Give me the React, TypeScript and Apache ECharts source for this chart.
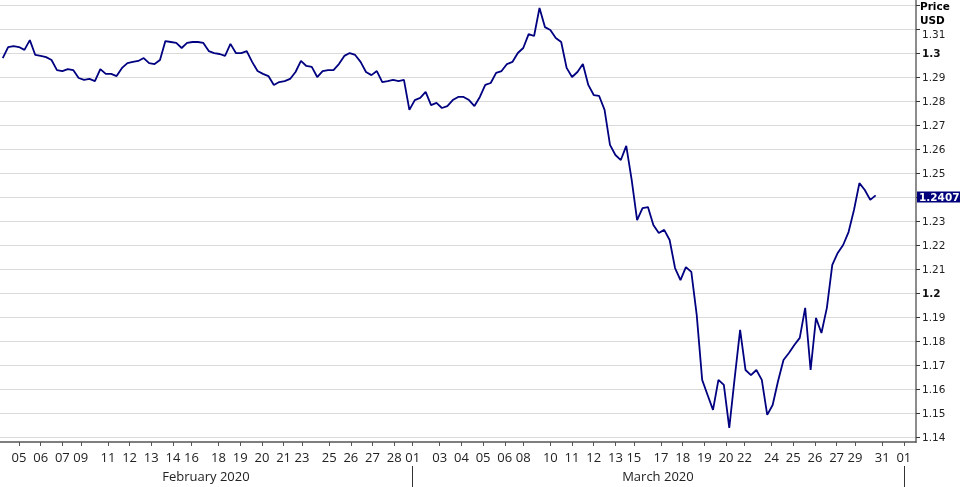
import React, { useEffect, useRef } from "react";
import * as echarts from "echarts";

// GBP/USD price, sampled every quarter of a trading day (weekends collapsed)
const prices = [
  1.2979, 1.3025, 1.3029, 1.3025, 1.3013, 1.3054, 1.2992, 1.2988, 1.2983, 1.2971,
  1.2929, 1.2925, 1.2933, 1.2929, 1.2896, 1.2888, 1.2892, 1.2883, 1.2933, 1.2913,
  1.2913, 1.2904, 1.2938, 1.2958, 1.2963, 1.2967, 1.2979, 1.2958, 1.2954, 1.2971,
  1.3050, 1.3046, 1.3042, 1.3021, 1.3042, 1.3046, 1.3046, 1.3042, 1.3008, 1.3000,
  1.2996, 1.2988, 1.3038, 1.3000, 1.3000, 1.3008, 1.2963, 1.2925, 1.2913, 1.2904,
  1.2867, 1.2879, 1.2883, 1.2892, 1.2921, 1.2967, 1.2946, 1.2942, 1.2900, 1.2925,
  1.2929, 1.2929, 1.2954, 1.2988, 1.3000, 1.2992, 1.2963, 1.2921, 1.2908, 1.2925,
  1.2879, 1.2883, 1.2888, 1.2883, 1.2888, 1.2763, 1.2804, 1.2813, 1.2838, 1.2783,
  1.2792, 1.2771, 1.2779, 1.2804, 1.2817, 1.2817, 1.2804, 1.2779, 1.2817, 1.2867,
  1.2875, 1.2917, 1.2925, 1.2954, 1.2963, 1.3000, 1.3021, 1.3079, 1.3071, 1.3188,
  1.3108, 1.3096, 1.3063, 1.3046, 1.2938, 1.2900, 1.2921, 1.2954, 1.2867, 1.2825,
  1.2821, 1.2763, 1.2617, 1.2575, 1.2554, 1.2613, 1.2471, 1.2304, 1.2354, 1.2358,
  1.2283, 1.2250, 1.2263, 1.2221, 1.2104, 1.2054, 1.2108, 1.2088, 1.1908, 1.1638,
  1.1575, 1.1513, 1.1638, 1.1617, 1.1438, 1.1646, 1.1846, 1.1679, 1.1658, 1.1679,
  1.1638, 1.1492, 1.1533, 1.1633, 1.1721, 1.1750, 1.1783, 1.1813, 1.1938, 1.1679,
  1.1896, 1.1833, 1.1938, 1.2117, 1.2167, 1.2200, 1.2254, 1.2346, 1.2458, 1.2429,
  1.2388, 1.2407,
];
const startDay = 1.25;
const stepDay = 0.25;
const lastPrice = 1.2407;

// trading-day positions of the day labels (Feb 3 = 0)
const dayTickLabels = [
  "05", "06", "07", "09", "11", "12", "13", "14", "16", "18", "19", "20", "21", "23",
  "25", "26", "27", "28", "01", "03", "04", "05", "06", "08", "10", "11", "12", "13",
  "15", "17", "18", "19", "20", "22", "24", "25", "26", "27", "29", "31", "01",
];
const dayTickValues = [
  2, 3, 4, 4.85, 6.1, 7.1, 8.1, 9.1, 9.95, 11.2, 12.2, 13.2, 14.2, 15.05,
  16.3, 17.3, 18.3, 19.3, 20.15, 21.4, 22.4, 23.4, 24.4, 25.25, 26.5, 27.5, 28.5, 29.5,
  30.35, 31.6, 32.6, 33.6, 34.6, 35.45, 36.7, 37.7, 38.7, 39.7, 40.55, 41.8, 42.8,
];
const monthLabels = ["February 2020", "March 2020"];
const monthLabelValues = [10.62, 31.46];
const monthBoundaries = [20.15, 42.8];

const yTickValues = [
  1.14, 1.15, 1.16, 1.17, 1.18, 1.19, 1.2, 1.21, 1.22, 1.23, 1.24, 1.25, 1.26,
  1.27, 1.28, 1.29, 1.3, 1.31, 1.32,
];
// 1.24 is hidden behind the last-price box
const yLabelValues = [
  1.14, 1.15, 1.16, 1.17, 1.18, 1.19, 1.2, 1.21, 1.22, 1.23, 1.25, 1.26,
  1.27, 1.28, 1.29, 1.3, 1.31,
];
const boldYLabels = [1.2, 1.3];
const loweredYLabels = [1.31];

const xMin = 1.124;
const xMax = 43.36;
const yMin = 1.1379;
const yMax = 1.3221;

function lookup(values: number[], labels: string[], v: number): string {
  for (let i = 0; i < values.length; i++) {
    if (Math.abs(values[i] - v) < 1e-6) return labels[i];
  }
  return "";
}
const has = (arr: number[], v: number) => arr.some((b) => Math.abs(b - v) < 1e-6);

export default function App() {
  const ref = useRef<HTMLDivElement>(null);
  useEffect(() => {
    if (!ref.current) return;
    const chart = echarts.init(ref.current, null, { renderer: "svg" });
    const data = prices.map((p, i) => [startDay + i * stepDay, p]);
    chart.setOption({
      animation: false,
      grid: { left: 0, right: 44, top: 0, bottom: 45, containLabel: false },
      xAxis: [
        {
          type: "value",
          min: xMin,
          max: xMax,
          position: "bottom",
          axisLine: { show: true, onZero: false, lineStyle: { color: "#555", width: 1.5 } },
          axisTick: {
            show: true,
            customValues: dayTickValues,
            length: 4,
            lineStyle: { color: "#555", width: 1 },
          },
          axisLabel: {
            customValues: dayTickValues,
            formatter: (v: number) => lookup(dayTickValues, dayTickLabels, v),
            margin: 8,
            fontFamily: "Open Sans",
            fontSize: 13,
            color: "#222",
          },
          splitLine: { show: false },
        },
        {
          type: "value",
          min: xMin,
          max: xMax,
          position: "bottom",
          offset: 24,
          axisLine: { show: false, onZero: false },
          axisTick: {
            show: true,
            customValues: monthBoundaries,
            length: 21,
            lineStyle: { color: "#333", width: 1 },
          },
          axisLabel: {
            customValues: monthLabelValues,
            formatter: (v: number) => lookup(monthLabelValues, monthLabels, v),
            margin: 3,
            fontFamily: "Open Sans",
            fontSize: 13,
            color: "#222",
          },
          splitLine: { show: false },
        },
      ],
      yAxis: {
        type: "value",
        position: "right",
        min: yMin,
        max: yMax,
        axisLine: { show: true, onZero: false, lineStyle: { color: "#8c8c8c", width: 2 } },
        axisTick: {
          show: true,
          customValues: yTickValues,
          length: 4,
          lineStyle: { color: "#333", width: 1 },
        },
        axisLabel: {
          customValues: yLabelValues,
          margin: 6,
          fontFamily: "DejaVu Sans",
          fontSize: 10.5,
          color: "#222",
          formatter: (v: number) => {
            const t = String(Number(v.toFixed(2)));
            if (has(boldYLabels, v)) return "{b|" + t + "}";
            if (has(loweredYLabels, v)) return "{low|" + t + "}";
            return t;
          },
          rich: {
            b: { fontFamily: "DejaVu Sans", fontSize: 10.5, fontWeight: "bold", color: "#111" },
            low: { fontFamily: "DejaVu Sans", fontSize: 10.5, color: "#222", padding: [10, 0, 0, 0] },
          },
        },
        splitLine: { show: true, lineStyle: { color: "#dadada", width: 1.2 } },
      },
      series: [
        {
          type: "line",
          data,
          symbol: "none",
          showSymbol: false,
          lineStyle: { color: "#000080", width: 1.8 },
          markLine: {
            silent: true,
            symbol: "none",
            lineStyle: { color: "rgba(0,0,0,0)", width: 0, type: "solid" },
            data: [{ yAxis: lastPrice }],
            label: {
              show: true,
              position: "end",
              distance: 1,
              formatter: () => lastPrice.toFixed(4),
              backgroundColor: "#00007a",
              color: "#fff",
              fontFamily: "DejaVu Sans",
              fontWeight: "bold",
              fontSize: 10.5,
              lineHeight: 11,
              padding: [0, 2, 0, 2],
            },
          },
        },
      ],
      graphic: [
        {
          type: "text",
          x: 920,
          y: 6,
          style: {
            text: "Price",
            font: "bold 10.5px 'DejaVu Sans'",
            fill: "#000",
            verticalAlign: "middle",
          },
        },
        {
          type: "text",
          x: 920,
          y: 20,
          style: {
            text: "USD",
            font: "bold 10.5px 'DejaVu Sans'",
            fill: "#000",
            verticalAlign: "middle",
          },
        },
      ],
    });
    return () => chart.dispose();
  }, []);
  return (
    <div
      ref={ref}
      style={{ position: "fixed", left: 0, top: 0, width: 960, height: 487 }}
    />
  );
}
